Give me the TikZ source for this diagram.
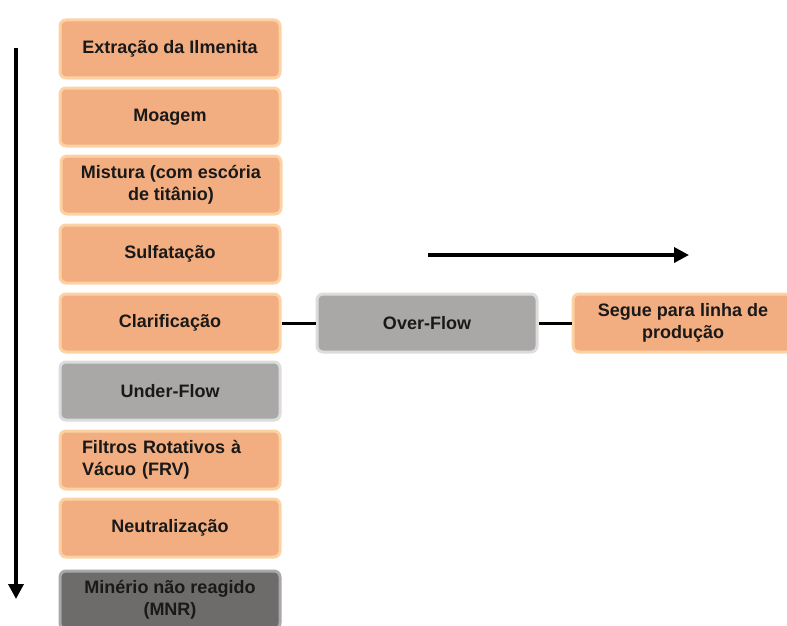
\documentclass[tikz,border=0pt]{standalone}
\usepackage{fontspec}
\setmainfont{Liberation Sans}
\usetikzlibrary{arrows.meta}
\definecolor{salmon}{HTML}{F2AE80}
\definecolor{glow}{HTML}{FCD2A4}
\definecolor{grayfill}{HTML}{AAA7A7}
\definecolor{grayedge}{HTML}{DCDCDC}
\definecolor{darkfill}{HTML}{6E6B6B}
\definecolor{darkedge}{HTML}{A8A8A8}
\begin{document}
\begin{tikzpicture}[x=1pt,y=-1pt,
  boxbase/.style={rounded corners=6pt, line width=3pt, minimum width=220pt, minimum height=58pt,
    inner sep=2pt, font=\bfseries\fontsize{18}{21.5}\selectfont, text=black!90, align=center},
  obox/.style={boxbase, fill=salmon, draw=glow},
  gbox/.style={boxbase, fill=grayfill, draw=grayedge},
  dbox/.style={boxbase, fill=darkfill, draw=darkedge},
  link/.style={line width=3pt, black},
  bigarrow/.style={line width=3.5pt, black, -{Triangle[length=15pt,width=15pt]}}
]
\useasboundingbox (0,0) rectangle (787,626);
\node[obox] (b1) at (170,49) {Extração da Ilmenita};
\node[obox] (b2) at (170,117) {Moagem};
\node[obox] (b3) at (171,185) {Mistura (com escória\\de titânio)};
\node[obox] (b4) at (170,254) {Sulfatação};
\node[obox] (b5) at (170,323) {Clarificação};
\node[gbox] (b6) at (170,391) {Under-Flow};
\node[obox, align=left, text width=176pt] (b7) at (170,460) {Filtros Rotativos à\\Vácuo (FRV)};
\node[obox] (b8) at (170,528) {Neutralização};
\node[dbox] (b9) at (170,600) {Minério não reagido\\(MNR)};
\node[gbox] (ov) at (427,323) {Over-Flow};
\node[obox] (sg) at (683,323) {Segue para linha de\\produção};
\coordinate (va) at (16,48);
\coordinate (vb) at (16,599);
\coordinate (ha) at (428,255);
\coordinate (hb) at (689,255);
\draw[bigarrow] (va) -- (vb);
\draw[bigarrow] (ha) -- (hb);
\draw[link] (b5.east) -- (ov.west);
\draw[link] (ov.east) -- (sg.west);
\end{tikzpicture}
\end{document}
